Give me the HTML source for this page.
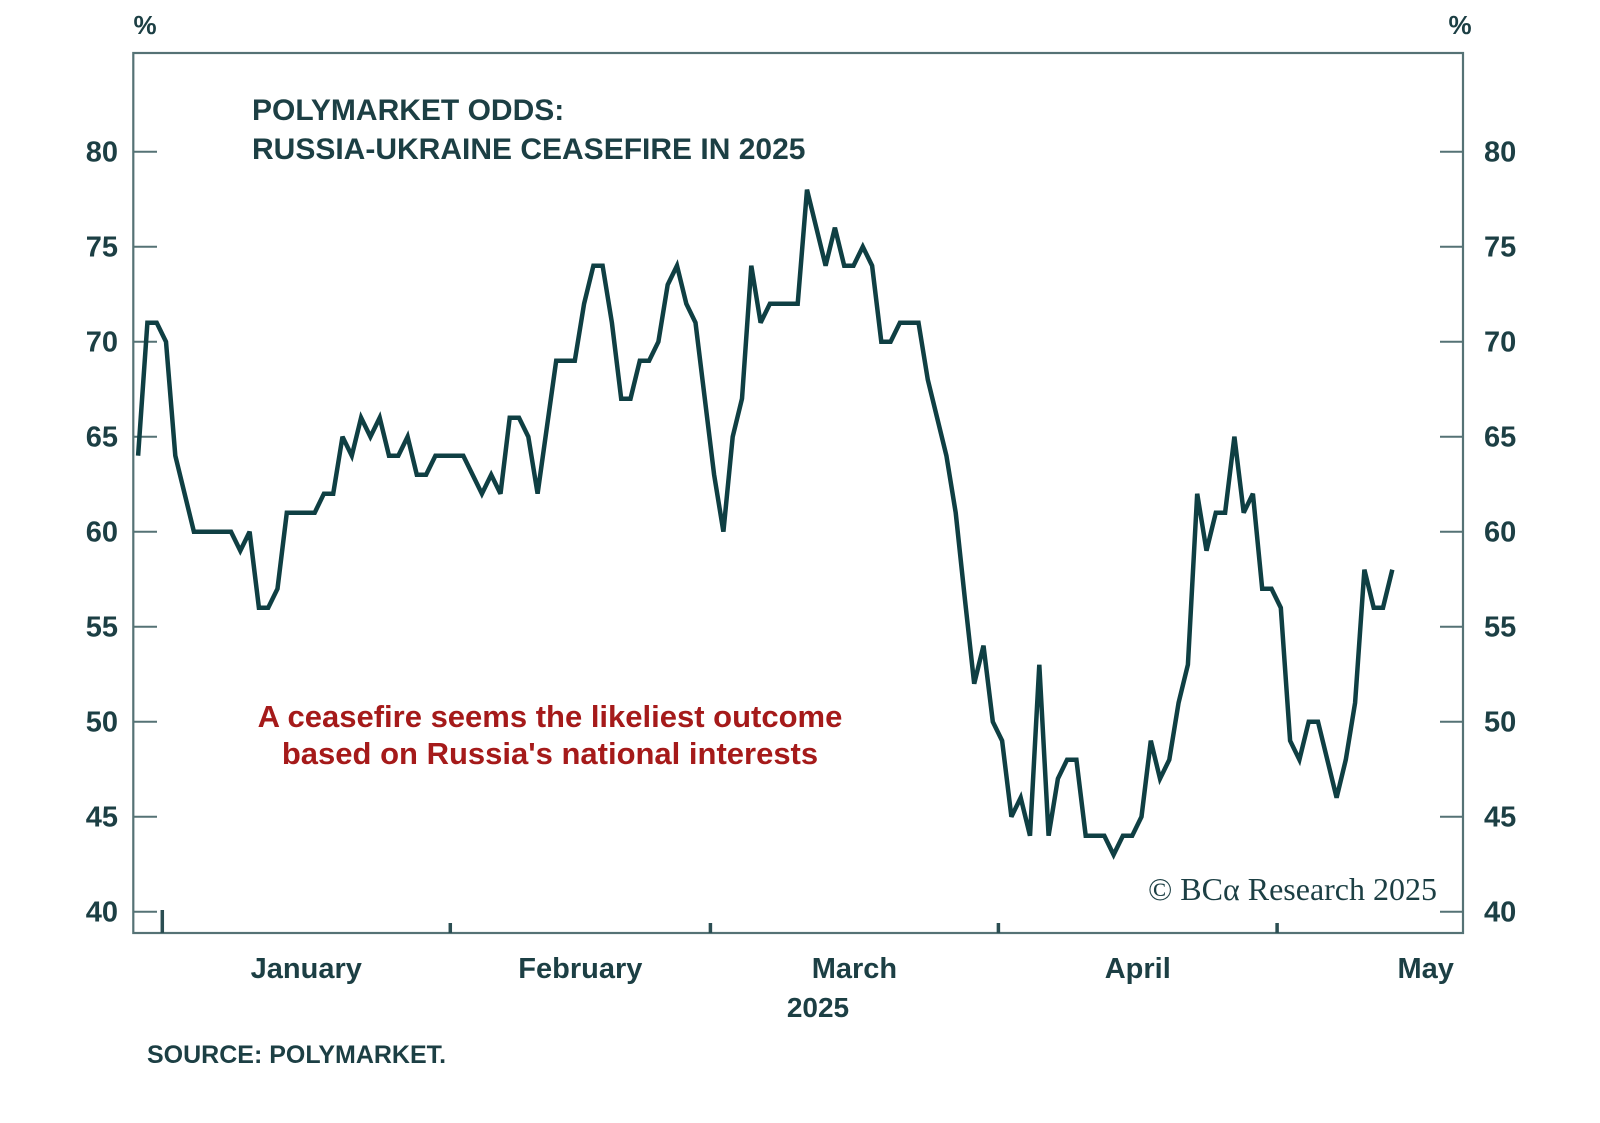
<!DOCTYPE html>
<html><head><meta charset="utf-8"><style>
html,body{margin:0;padding:0;background:#fff;}
svg{display:block;}
text{font-family:"Liberation Sans",sans-serif;fill:#1c3f44;font-weight:bold;}
</style></head><body>
<svg id="chart" width="1600" height="1123" viewBox="0 0 1600 1123">
  <rect x="133.3" y="53" width="1329.7" height="880" fill="none" stroke="#557275" stroke-width="2.2"/>
  <text x="145" y="34" font-size="26" text-anchor="middle">%</text>
  <text x="1460" y="34" font-size="26" text-anchor="middle">%</text>
  <text x="252" y="120" font-size="30">POLYMARKET ODDS:</text>
  <text x="252" y="159" font-size="30">RUSSIA-UKRAINE CEASEFIRE IN 2025</text>
  <text x="550" y="727" font-size="31" text-anchor="middle" style="fill:#a51a1a">A ceasefire seems the likeliest outcome</text>
  <text x="550" y="764" font-size="31" text-anchor="middle" style="fill:#a51a1a">based on Russia's national interests</text>
  <text x="1437" y="900" font-size="32" text-anchor="end" style="font-family:'Liberation Serif',serif;font-weight:normal">© BCα Research 2025</text>
  <text x="818" y="1017" font-size="28" text-anchor="middle">2025</text>
  <text x="147" y="1063" font-size="25">SOURCE: POLYMARKET.</text>
  <g id="axes"></g>
  <g id="series"></g>
</svg>
<script>
const values = [64,71,71,70,64,62,60,60,60,60,60,59,60,56,56,57,61,61,61,61,62,62,65,64,66,65,66,64,64,65,63,63,64,64,64,64,63,62,63,62,66,66,65,62,65.5,69,69,69,72,74,74,71,67,67,69,69,70,73,74,72,71,67,63,60,65,67,74,71,72,72,72,72,78,76,74,76,74,74,75,74,70,70,71,71,71,68,66,64,61,56.4,52,54,50,49,45,46,44,53,44,47,48,48,44,44,44,43,44,44,45,49,47,48,51,53,62,59,61,61,65,61,62,57,57,56,49,48,50,50,48,46,48,51,58,56,56,58];
const firstDay = -2.6;
const yTicks = [40,45,50,55,60,65,70,75,80];
const monthNames = ["January","February","March","April","May"];
const monthStartDays = [0,31,59,90,120];
const monthLabelDays = [15.5,45,74.5,105,136];

const NS = "http://www.w3.org/2000/svg";
function xDay(d){ return 162.3 + 9.29*d; }
function yVal(v){ return 151.7 + (80 - v)*19; }
function mk(tag, attrs, parent){
  const el = document.createElementNS(NS, tag);
  for (const k in attrs) el.setAttribute(k, attrs[k]);
  parent.appendChild(el);
  return el;
}
const axes = document.getElementById('axes');
const series = document.getElementById('series');

yTicks.forEach(function(t){
  const y = yVal(t);
  const tl = mk('line', {x1:133.3, x2:157, y1:y, y2:y, stroke:'#557275', 'stroke-width':2}, axes);
  
  
  const tr = mk('line', {x1:1440, x2:1463, y1:y, y2:y, stroke:'#557275', 'stroke-width':2}, axes);
  
  
  const ll = mk('text', {x:118, y:y+10, 'font-size':29, 'text-anchor':'end'}, axes);
  ll.textContent = t;
  
  
  const lr = mk('text', {x:1484, y:y+10, 'font-size':29, 'text-anchor':'start'}, axes);
  lr.textContent = t;
  
  
});

monthStartDays.forEach(function(d, i){
  const x = xDay(d);
  const top = i === 0 ? 910 : 923;
  const tk = mk('line', {x1:x, x2:x, y1:top, y2:933, stroke:'#2b4e52', 'stroke-width':3.5}, axes);
  
  
});
monthNames.forEach(function(m, i){
  const lb = mk('text', {x:xDay(monthLabelDays[i]), y:978, 'font-size':29, 'text-anchor':'middle'}, axes);
  lb.textContent = m;
  
  
});

const pts = values.map(function(v, i){ return xDay(firstDay + i).toFixed(1) + ',' + yVal(v).toFixed(1); }).join(' ');
const line = mk('polyline', {points:pts, fill:'none', stroke:'#0f3f43', 'stroke-width':4.5, 'stroke-linejoin':'miter', 'stroke-miterlimit':3}, series);


</script>
</body></html>
